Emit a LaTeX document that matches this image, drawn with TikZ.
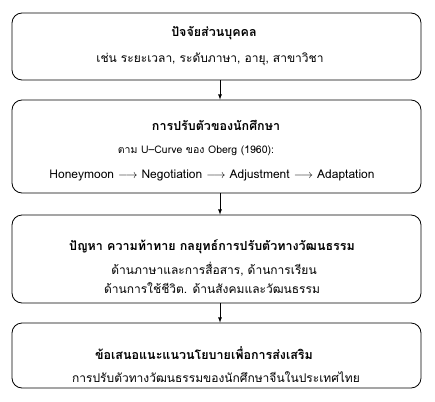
\documentclass[tikz,border=0pt]{standalone}
\usepackage{fontspec}
\setmainfont[Script=Thai]{Loma}

\tikzset{
    box/.style = {draw, rounded corners = 10pt, line width = 0.8pt,
        minimum width = 409pt, inner sep = 0pt},
    title/.style = {font = \bfseries\fontsize{12.5}{14}\selectfont},
    line/.style = {font = \fontsize{12}{14}\selectfont},
    flow/.style = {-latex, line width = 0.8pt}
}

\begin{document}
\begin{tikzpicture}[x = 1pt, y = -1pt]
        \useasboundingbox (0, 0) rectangle (435, 401);
        % boxes
        \node[box, minimum height = 67pt] (b1) at (216.5, 46.5) {};
        \node[box, minimum height = 93pt] (b2) at (216.5, 146.5) {};
        \node[box, minimum height = 88pt] (b3) at (216.5, 259) {};
        \node[box, minimum height = 65pt] (b4) at (216.5, 355.5) {};
        % texts
        \node[title] (t1) at (214, 33) {ปัจจัยส่วนบุคคล};
        \node[line] (t1a) at (210, 59) {เช่น ระยะเวลา, ระดับภาษา, อายุ, สาขาวิชา};
        \node[title] (t2) at (216, 125) {การปรับตัวของนักศึกษา};
        \node[line, font = \fontsize{10.5}{12}\selectfont] (t2a) at (196, 151) {ตาม U–Curve ของ Oberg (1960):};
        \node[line] (t2b) at (212, 175) {Honeymoon $\longrightarrow$ Negotiation $\longrightarrow$ Adjustment $\longrightarrow$ Adaptation};
        \node[title] (t3) at (212, 247) {ปัญหา ความท้าทาย กลยุทธ์การปรับตัวทางวัฒนธรรม};
        \node[line] (t3a) at (214, 269) {ด้านภาษาและการสื่อสาร, ด้านการเรียน};
        \node[line] (t3b) at (212, 288) {ด้านการใช้ชีวิต. ด้านสังคมและวัฒนธรรม};
        \node[title] (t4) at (204, 353) {ข้อเสนอแนะแนวนโยบายเพื่อการส่งเสริม};
        \node[line] (t4a) at (216, 377) {การปรับตัวทางวัฒนธรรมของนักศึกษาจีนในประเทศไทย};
        % arrows
        \draw[flow] ([xshift = 3.5pt]b1.south) -- ([xshift = 3.5pt]b2.north);
        \draw[flow] ([xshift = 3.5pt]b2.south) -- ([xshift = 3.5pt]b3.north);
        \draw[flow] ([xshift = 3.5pt]b3.south) -- ([xshift = 3.5pt]b4.north);
\end{tikzpicture}
\end{document}
